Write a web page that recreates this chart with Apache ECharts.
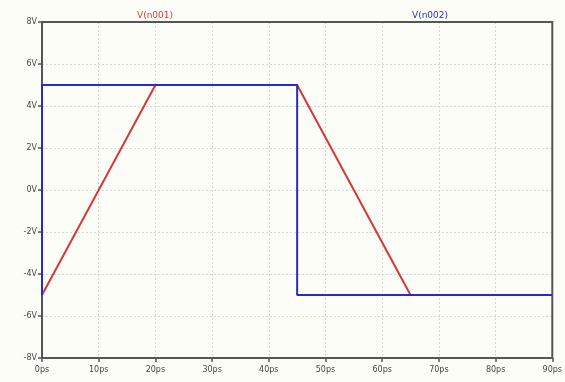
<!DOCTYPE html>
<html>
<head>
<meta charset="utf-8">
<script src="https://cdn.jsdelivr.net/npm/echarts@6/dist/echarts.min.js"></script>
<style>
  html, body { margin: 0; padding: 0; background: #fdfdf7; }
  #chart { width: 565px; height: 382px; }
</style>
</head>
<body>
<div id="chart"></div>
<script>
// Time points (ps) and node voltages (V) for the two traces
const timeN001 = [0, 20, 45, 65, 90];
const voltN001 = [-5, 5, 5, -5, -5];
const timeN002 = [0, 0, 45, 45, 90];
const voltN002 = [-5, 5, 5, -5, -5];

const seriesNames = ['V(n001)', 'V(n002)'];
const seriesColors = ['#d03a3a', '#2b2bc4'];

// Axis tick labels
const xTicks = [0, 10, 20, 30, 40, 50, 60, 70, 80, 90];
const yTicks = [-8, -6, -4, -2, 0, 2, 4, 6, 8];

const pairs = (xs, ys) => xs.map((x, i) => [x, ys[i]]);

const chart = echarts.init(document.getElementById('chart'));
const axisText = { color: '#444', fontSize: 8, fontFamily: 'DejaVu Sans' };

chart.setOption({
  backgroundColor: '#fdfdf7',
  animation: false,
  grid: { left: 42, right: 12, top: 22, bottom: 24 },
  title: [
    { text: seriesNames[0], left: 150, top: 6, textAlign: 'center',
      textStyle: { color: seriesColors[0], fontSize: 9, fontWeight: 'normal', fontFamily: 'DejaVu Sans' } },
    { text: seriesNames[1], left: 425, top: 6, textAlign: 'center',
      textStyle: { color: seriesColors[1], fontSize: 9, fontWeight: 'normal', fontFamily: 'DejaVu Sans' } }
  ],
  xAxis: {
    type: 'value', min: xTicks[0], max: xTicks[xTicks.length - 1], interval: 10,
    axisLine: { show: true, onZero: false, lineStyle: { color: '#555', width: 2 } },
    axisTick: { show: true, length: 4, lineStyle: { color: '#555', width: 1.5 } },
    axisLabel: { ...axisText, margin: 8, formatter: v => v + 'ps' },
    splitLine: { show: true, lineStyle: { color: '#d6d6d6', type: [2, 2], width: 1 } }
  },
  yAxis: {
    type: 'value', min: yTicks[0], max: yTicks[yTicks.length - 1], interval: 2,
    axisLine: { show: true, onZero: false, lineStyle: { color: '#555', width: 2 } },
    axisTick: { show: true, length: 4, lineStyle: { color: '#555', width: 1.5 } },
    axisLabel: { ...axisText, margin: 5, formatter: v => v + 'V' },
    splitLine: { show: true, lineStyle: { color: '#d6d6d6', type: [2, 2], width: 1 } }
  },
  series: [
    { name: seriesNames[0], type: 'line', data: pairs(timeN001, voltN001), showSymbol: false,
      lineStyle: { color: seriesColors[0], width: 2 }, z: 2 },
    { name: seriesNames[1], type: 'line', data: pairs(timeN002, voltN002), showSymbol: false,
      lineStyle: { color: seriesColors[1], width: 2 }, z: 3 }
  ]
});

// Draw the full plot frame from the grid's own coordinates
const tl = chart.convertToPixel({ gridIndex: 0 }, [xTicks[0], yTicks[yTicks.length - 1]]);
const br = chart.convertToPixel({ gridIndex: 0 }, [xTicks[xTicks.length - 1], yTicks[0]]);
chart.setOption({
  graphic: [{
    type: 'rect', silent: true, z: 1,
    shape: { x: tl[0], y: tl[1], width: br[0] - tl[0], height: br[1] - tl[1] },
    style: { fill: null, stroke: '#555', lineWidth: 2 }
  }]
});
</script>
</body>
</html>
